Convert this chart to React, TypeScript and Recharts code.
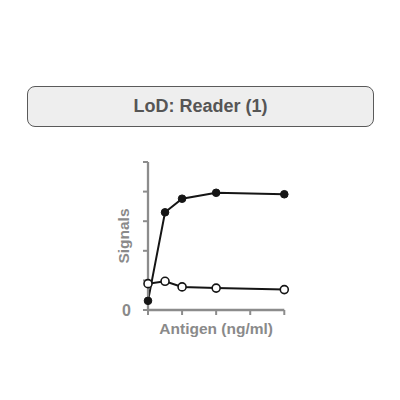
import React from 'react';
import { LineChart, Line, XAxis, YAxis } from 'recharts';

const antigen = [0, 0.5, 1, 2, 4];
const filledSignals = [0.31, 3.3, 3.76, 3.96, 3.91];
const openSignals = [0.89, 0.97, 0.78, 0.74, 0.69];
const xTicks = [0, 1, 2, 3, 4];
const yTicks = [0, 1, 2, 3, 4, 5];
const yTickLabels = ['0', '', '', '', '', ''];
const title = 'LoD: Reader (1)';
const xLabel = 'Antigen (ng/ml)';
const yLabel = 'Signals';

const data = antigen.map((x, i) => ({ x, filled: filledSignals[i], open: openSignals[i] }));

const FONT = '"Liberation Sans", Arial, sans-serif';
const AXIS_GRAY = '#8c8c8c';
const TEXT_GRAY = '#8a8a8a';

export default function App() {
  return (
    <div style={{ position: 'absolute', left: 0, top: 0, width: 400, height: 400, background: '#fff', fontFamily: FONT }}>
      <div
        style={{
          position: 'absolute',
          left: 27,
          top: 86,
          width: 347,
          height: 41,
          boxSizing: 'border-box',
          border: '1.5px solid #5a5a5a',
          borderRadius: 8,
          background: '#eeeeee',
          display: 'flex',
          alignItems: 'center',
          justifyContent: 'center',
          fontWeight: 'bold',
          fontSize: 18,
          color: '#555555',
        }}
      >
        {title}
      </div>
      <div style={{ position: 'absolute', left: 0, top: 0 }}>
        <LineChart
          width={400}
          height={400}
          data={data}
          margin={{ top: 162, right: 115.7, bottom: 50, left: 108 }}
        >
          <XAxis
            dataKey="x"
            type="number"
            domain={[0, 4]}
            ticks={xTicks}
            height={40}
            stroke={AXIS_GRAY}
            strokeWidth={2.3}
            tickSize={5}
            tickFormatter={() => ''}
            tickLine={{ stroke: AXIS_GRAY, strokeWidth: 2 }}
            label={{
              content: (props: any) => {
                const vb = props.viewBox;
                return (
                  <text
                    x={vb.x + vb.width / 2}
                    y={vb.y + 24}
                    textAnchor="middle"
                    fontFamily={FONT}
                    fontWeight="bold"
                    fontSize={15.5}
                    fill={TEXT_GRAY}
                  >
                    {xLabel}
                  </text>
                );
              },
            }}
          />
          <YAxis
            type="number"
            domain={[0, 5]}
            ticks={yTicks}
            width={40}
            stroke={AXIS_GRAY}
            strokeWidth={2.3}
            tickSize={5}
            tickMargin={12}
            tickLine={{ stroke: AXIS_GRAY, strokeWidth: 2 }}
            tickFormatter={(v: number) => yTickLabels[yTicks.indexOf(v)] ?? ''}
            tick={{ fill: TEXT_GRAY, fontFamily: FONT, fontWeight: 'bold', fontSize: 16 }}
            label={{
              content: (props: any) => {
                const vb = props.viewBox;
                const cx = vb.x + vb.width - 25;
                const cy = vb.y + vb.height / 2;
                return (
                  <text
                    x={cx}
                    y={cy}
                    transform={`rotate(-90 ${cx} ${cy})`}
                    textAnchor="middle"
                    dominantBaseline="central"
                    fontFamily={FONT}
                    fontWeight="bold"
                    fontSize={15.5}
                    fill={TEXT_GRAY}
                  >
                    {yLabel}
                  </text>
                );
              },
            }}
          />
          <Line
            dataKey="filled"
            stroke="#151515"
            strokeWidth={2}
            isAnimationActive={false}
            dot={{ r: 3.8, fill: '#151515', stroke: '#151515', strokeWidth: 1 }}
            activeDot={false}
          />
          <Line
            dataKey="open"
            stroke="#151515"
            strokeWidth={2}
            isAnimationActive={false}
            dot={{ r: 4, fill: '#ffffff', stroke: '#151515', strokeWidth: 1.6 }}
            activeDot={false}
          />
        </LineChart>
      </div>
    </div>
  );
}
